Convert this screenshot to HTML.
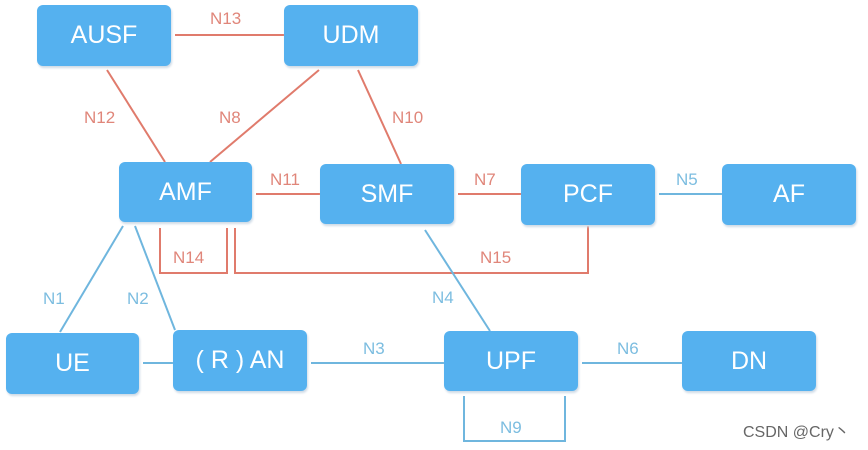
<!DOCTYPE html>
<html><head><style>
body{margin:0;background:#fff;width:868px;height:450px;overflow:hidden;position:relative;font-family:"Liberation Sans",sans-serif}
.b{position:absolute;background:#55b1ef;border-radius:6px;color:#fff;font-size:25px;display:flex;align-items:center;justify-content:center;box-shadow:1px 2px 2px #cfdbe6}
svg{position:absolute;left:0;top:0}
text{font-family:"Liberation Sans",sans-serif;font-size:17px}
.r{fill:#e0867a}.l{fill:#7cbde0}
</style></head><body>
<svg width="868" height="450">
<g stroke="#e07b6c" stroke-width="2" fill="none">
<line x1="175" y1="35" x2="284" y2="35"/>
<line x1="107" y1="70" x2="165" y2="162"/>
<line x1="319" y1="70" x2="210" y2="162"/>
<line x1="358" y1="70" x2="401" y2="164"/>
<line x1="256" y1="194" x2="320" y2="194"/>
<line x1="458" y1="194" x2="521" y2="194"/>
<polyline points="160,228 160,273 227,273 227,228"/>
<polyline points="235,228 235,273 588,273 588,226"/>
</g>
<g stroke="#6fb6de" stroke-width="2" fill="none">
<line x1="659" y1="194" x2="722" y2="194"/>
<line x1="123" y1="226" x2="60" y2="332"/>
<line x1="135" y1="226" x2="175" y2="330"/>
<line x1="425" y1="230" x2="490" y2="331"/>
<line x1="143" y1="363" x2="173" y2="363"/>
<line x1="311" y1="363" x2="444" y2="363"/>
<line x1="582" y1="363" x2="682" y2="363"/>
<polyline points="464,396 464,441 565,441 565,396"/>
</g>
<text class="r" x="210" y="24">N13</text>
<text class="r" x="84" y="123">N12</text>
<text class="r" x="219" y="123">N8</text>
<text class="r" x="392" y="123">N10</text>
<text class="r" x="270" y="185">N11</text>
<text class="r" x="474" y="185">N7</text>
<text class="l" x="676" y="185">N5</text>
<text class="r" x="173" y="263">N14</text>
<text class="r" x="480" y="263">N15</text>
<text class="l" x="43" y="304">N1</text>
<text class="l" x="127" y="304">N2</text>
<text class="l" x="432" y="303">N4</text>
<text class="l" x="363" y="354">N3</text>
<text class="l" x="617" y="354">N6</text>
<text class="l" x="500" y="433">N9</text>
<text x="743" y="437" style="font-size:16px;fill:#666">CSDN @Cry丶</text>
</svg>
<div class="b" style="left:37px;top:5px;width:134px;height:61px">AUSF</div>
<div class="b" style="left:284px;top:5px;width:134px;height:61px">UDM</div>
<div class="b" style="left:119px;top:162px;width:133px;height:60px">AMF</div>
<div class="b" style="left:320px;top:164px;width:134px;height:60px">SMF</div>
<div class="b" style="left:521px;top:164px;width:134px;height:61px">PCF</div>
<div class="b" style="left:722px;top:164px;width:134px;height:61px">AF</div>
<div class="b" style="left:6px;top:333px;width:133px;height:61px">UE</div>
<div class="b" style="left:173px;top:330px;width:134px;height:61px">( R ) AN</div>
<div class="b" style="left:444px;top:331px;width:134px;height:60px">UPF</div>
<div class="b" style="left:682px;top:331px;width:134px;height:60px">DN</div>
</body></html>
